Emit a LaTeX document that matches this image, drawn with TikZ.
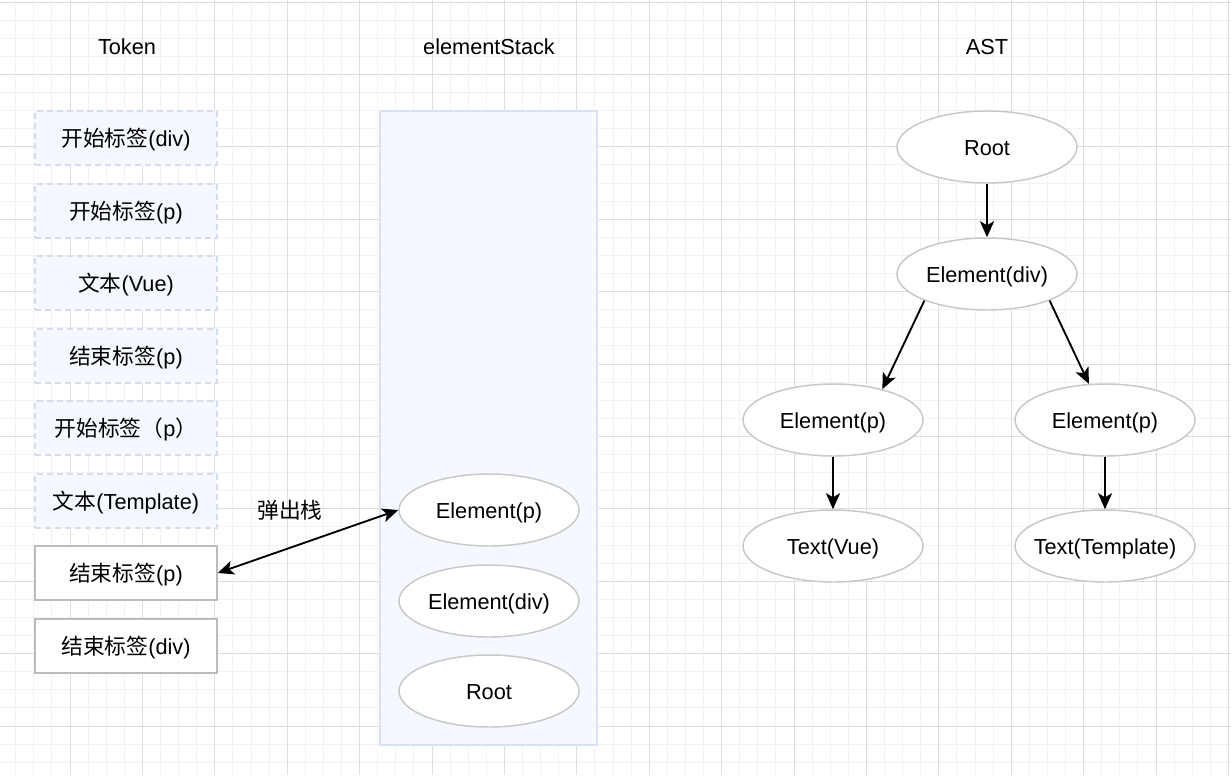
\documentclass[tikz,border=0pt]{standalone}
\usepackage{fontspec}
\setmainfont{Liberation Sans}
\newfontfamily\cjk{Noto Sans CJK SC}
\usetikzlibrary{shapes.geometric,arrows.meta}
\definecolor{gridminor}{RGB}{242,242,242}
\definecolor{gridmajor}{RGB}{222,222,222}
\definecolor{tokfill}{RGB}{245,248,254}
\definecolor{tokline}{RGB}{212,221,238}
\definecolor{stackline}{RGB}{218,226,240}
\definecolor{ellline}{RGB}{200,200,200}
\definecolor{boxline}{RGB}{188,188,188}
\newcommand\zw[1]{\makebox[0pt]{#1}}
\tikzset{
  lbl/.style={font=\fontsize{16.3}{19}\selectfont, text=black, text height=12.5pt, text depth=0.5pt},
  tokdash/.style={lbl, rectangle, draw=tokline, fill=tokfill, line width=1.1pt,
    dash pattern=on 4.5pt off 3pt, minimum width=136.5pt, minimum height=40.5pt, inner sep=0pt},
  toksolid/.style={lbl, rectangle, draw=boxline, fill=white, line width=1.1pt,
    minimum width=136.5pt, minimum height=40.5pt, inner sep=0pt},
  stackbox/.style={rectangle, draw=stackline, fill=tokfill, line width=1.1pt,
    minimum width=162.75pt, minimum height=475.5pt, inner sep=0pt},
  ell/.style={lbl, ellipse, draw=ellline, fill=white, line width=1.1pt,
    minimum width=135pt, minimum height=54pt, inner sep=0pt},
  arr/.style={line width=1.4pt, draw=black, -{Stealth[length=12pt,width=10.5pt,inset=3pt]}},
  darr/.style={line width=1.4pt, draw=black, {Stealth[length=12pt,width=10.5pt,inset=3pt]}-{Stealth[length=12pt,width=10.5pt,inset=3pt]}},
}
\begin{document}
\begin{tikzpicture}[x=0.75pt,y=-0.75pt]
\useasboundingbox (0,0) rectangle (1231,775);
\fill[white] (0,0) rectangle (1231,775);
% grid
\foreach \i in {0,...,68} {
  \pgfmathsetmacro{\gx}{-2.4+18.1*\i}
  \draw[gridminor, line width=0.75pt] (\gx,0) -- (\gx,775);
}
\foreach \i in {0,...,43} {
  \pgfmathsetmacro{\gy}{2+18.1*\i}
  \draw[gridminor, line width=0.75pt] (0,\gy) -- (1231,\gy);
}
\foreach \i in {0,...,17} {
  \pgfmathsetmacro{\gx}{-2.4+72.4*\i}
  \draw[gridmajor, line width=0.75pt] (\gx,0) -- (\gx,775);
}
\foreach \i in {0,...,10} {
  \pgfmathsetmacro{\gy}{2+72.4*\i}
  \draw[gridmajor, line width=0.75pt] (0,\gy) -- (1231,\gy);
}
% titles
\node[lbl] (ttoken) at (127,46) {Token};
\node[lbl] (tstack) at (489,46) {elementStack};
\node[lbl] (tast) at (987,46) {AST};
% tokens
\node[tokdash] (t1) at (126,138) {{\cjk 开始标签}(div)};
\node[tokdash] (t2) at (126,211) {{\cjk 开始标签}(p)};
\node[tokdash] (t3) at (126,283) {{\cjk 文本}(Vue)};
\node[tokdash] (t4) at (126,356) {{\cjk 结束标签}(p)};
\node[tokdash] (t5) at (126,428) {{\cjk 开始标签（}p{\cjk ）}};
\node[tokdash] (t6) at (126,501) {{\cjk 文本}(Template)};
\node[toksolid] (t7) at (126,573) {{\cjk 结束标签}(p)};
\node[toksolid] (t8) at (126,646) {{\cjk 结束标签}(div)};
% stack
\node[stackbox] (stack) at (488.5,428) {};
\node[ell] (s1) at (489,510) {\zw{Element(p)}};
\node[ell] (s2) at (489,601) {\zw{Element(div)}};
\node[ell] (s3) at (489,691) {\zw{Root}};
% pop arrow
\draw[darr] (t7.east) -- (s1.west);
\node[lbl] (pop) at (290,510) {\cjk 弹出栈};
% AST
\node[ell] (aroot) at (987,147) {\zw{Root}};
\node[ell] (adiv) at (987,274) {\zw{Element(div)}};
\node[ell] (ap1) at (833,420) {\zw{Element(p)}};
\node[ell] (ap2) at (1105,420) {\zw{Element(p)}};
\node[ell] (avue) at (833,546) {\zw{Text(Vue)}};
\node[ell] (atpl) at (1105,546) {\zw{Text(Template)}};
\draw[arr] (aroot.south) -- (adiv.north);
\draw[arr] (adiv.203) -- (ap1.32);
\draw[arr] (adiv.337) -- (ap2.114);
\draw[arr] (ap1.south) -- (avue.north);
\draw[arr] (ap2.south) -- (atpl.north);
\end{tikzpicture}
\end{document}
